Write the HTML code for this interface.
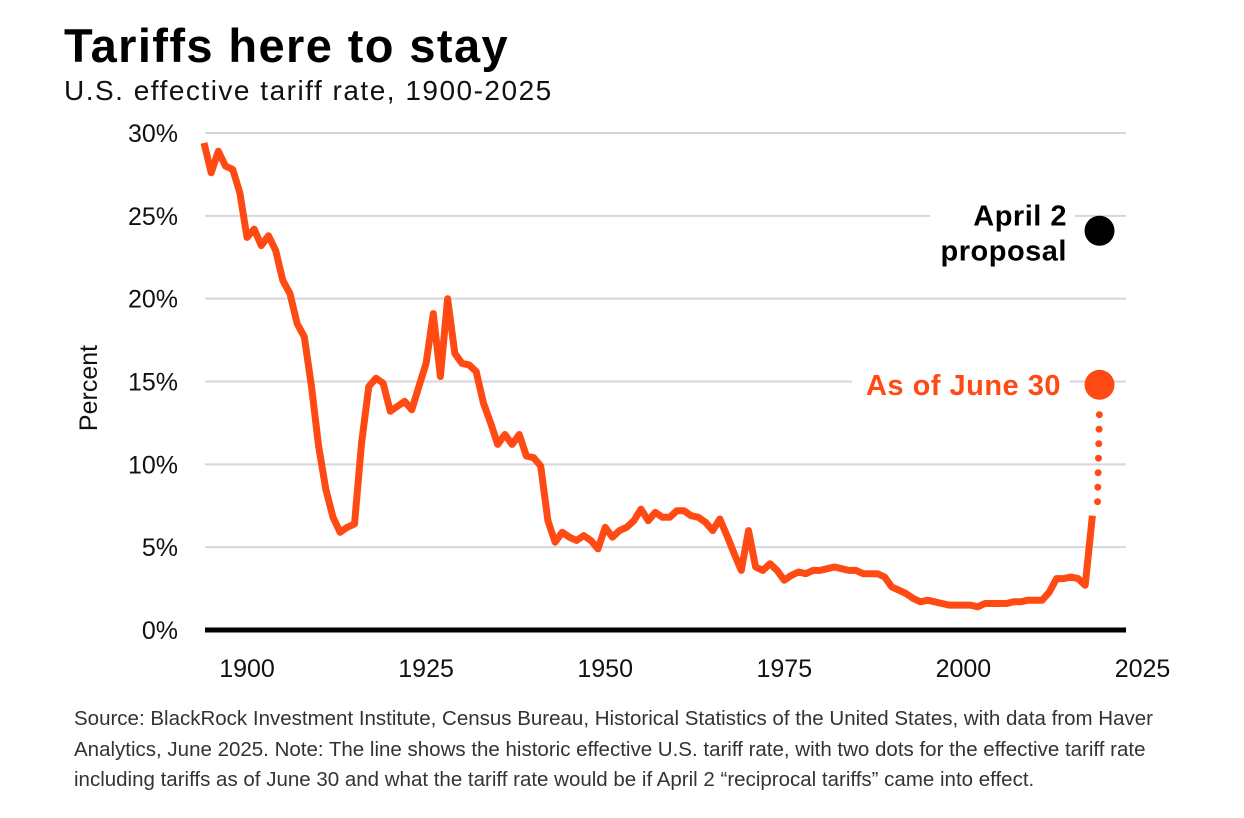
<!DOCTYPE html>
<html><head><meta charset="utf-8"><style>
body{margin:0;background:#fff;width:1244px;height:813px;overflow:hidden;font-family:"Liberation Sans",sans-serif}
</style></head><body>
<svg id="chart" width="1244" height="813" xmlns="http://www.w3.org/2000/svg">
<text x="64" y="62" font-size="47" font-weight="bold" fill="#000" letter-spacing="1.4">Tariffs here to stay</text>
<text x="64" y="100" font-size="28" fill="#111" letter-spacing="1.5">U.S. effective tariff rate, 1900-2025</text>
<text transform="translate(97,388) rotate(-90)" text-anchor="middle" font-size="25" fill="#111">Percent</text>
<g id="grid"></g><g id="yticks"></g><g id="xticks"></g>
<line x1="205" x2="1126" y1="630" y2="630" stroke="#000" stroke-width="5"/>
<g id="series"></g>
<text font-size="20.5" fill="#333">
<tspan x="74" y="725">Source: BlackRock Investment Institute, Census Bureau, Historical Statistics of the United States, with data from Haver</tspan>
<tspan x="74" y="756">Analytics, June 2025. Note: The line shows the historic effective U.S. tariff rate, with two dots for the effective tariff rate</tspan>
<tspan x="74" y="786">including tariffs as of June 30 and what the tariff rate would be if April 2 “reciprocal tariffs” came into effect.</tspan>
</text>
</svg>
<script>
const startYear = 1894;
const rates = [29.4,27.6,28.9,28.0,27.8,26.4,23.7,24.2,23.2,23.8,22.9,21.1,20.3,18.5,17.7,14.7,11.1,8.5,6.8,5.9,6.2,6.4,11.3,14.7,15.2,14.9,13.2,13.5,13.8,13.3,14.7,16.1,19.1,15.3,20.0,16.7,16.1,16.0,15.6,13.7,12.5,11.2,11.8,11.2,11.8,10.5,10.4,9.9,6.6,5.3,5.9,5.6,5.4,5.7,5.4,4.9,6.2,5.6,6.0,6.2,6.6,7.3,6.6,7.1,6.8,6.8,7.2,7.2,6.9,6.8,6.5,6.0,6.7,5.7,4.6,3.6,6.0,3.8,3.6,4.0,3.6,3.0,3.3,3.5,3.4,3.6,3.6,3.7,3.8,3.7,3.6,3.6,3.4,3.4,3.4,3.2,2.6,2.4,2.2,1.9,1.7,1.8,1.7,1.6,1.5,1.5,1.5,1.5,1.4,1.6,1.6,1.6,1.6,1.7,1.7,1.8,1.8,1.8,2.3,3.1,3.1,3.2,3.1,2.7,6.9];
const dotYear = 2019;
const juneRate = 14.8;
const aprilRate = 24.1;
const yTicks = [0,5,10,15,20,25,30];
const xTicks = [1900,1925,1950,1975,2000,2025];

const NS='http://www.w3.org/2000/svg';
const x = yr => 247 + (yr-1900)*7.164;
const y = v => 630 - v*16.567;
function mk(tag, attrs, parent){const e=document.createElementNS(NS,tag);for(const k in attrs)e.setAttribute(k,attrs[k]);document.getElementById(parent).appendChild(e);return e;}

yTicks.forEach(t=>{
  if(t>0){const g=mk('line',{x1:205,x2:1126,y1:y(t),y2:y(t),stroke:'#d6d6de','stroke-width':2},'grid');
  
  }
  const l=mk('text',{x:178,y:y(t)+9,'text-anchor':'end','font-size':25,fill:'#111'},'yticks');
  
  
  l.textContent=t+'%';
});
xTicks.forEach(t=>{
  const l=mk('text',{x:x(t),y:677,'text-anchor':'middle','font-size':25,fill:'#111'},'xticks');
  
  
  l.textContent=t;
});
const pts=rates.map((v,i)=>x(startYear+i).toFixed(1)+','+y(v).toFixed(1)).join(' ');
const line=mk('polyline',{points:pts,fill:'none',stroke:'#ff4a14','stroke-width':7,'stroke-linejoin':'round'},'series');


const lastY=y(rates[rates.length-1]);
const dotted=mk('line',{x1:x(dotYear)-2,y1:lastY-14,x2:x(dotYear),y2:y(juneRate)+24,stroke:'#ff4a14','stroke-width':7,'stroke-linecap':'round','stroke-dasharray':'0 14.5'},'series');


const b1=mk('rect',{x:930,y:y(aprilRate)-30,width:145,height:80,fill:'#fff'},'series');


const b2=mk('rect',{x:852,y:y(juneRate)-20,width:218,height:40,fill:'#fff'},'series');


const d1=mk('circle',{cx:x(dotYear),cy:y(juneRate),r:15,fill:'#ff4a14'},'series');


const d2=mk('circle',{cx:x(dotYear),cy:y(aprilRate),r:15,fill:'#000'},'series');


const t1=mk('text',{x:1061,y:y(juneRate)+10,'text-anchor':'end','font-size':29,'font-weight':'bold',fill:'#ff4a14',"letter-spacing":0.5},'series');


t1.textContent='As of June 30';
const t2=mk('text',{x:1067,y:y(aprilRate)-5,'text-anchor':'end','font-size':29,'font-weight':'bold',fill:'#000',"letter-spacing":0.5},'series');


t2.textContent='April 2';
const t3=mk('text',{x:1067,y:y(aprilRate)+30,'text-anchor':'end','font-size':29,'font-weight':'bold',fill:'#000',"letter-spacing":0.5},'series');


t3.textContent='proposal';
</script>
</body></html>
